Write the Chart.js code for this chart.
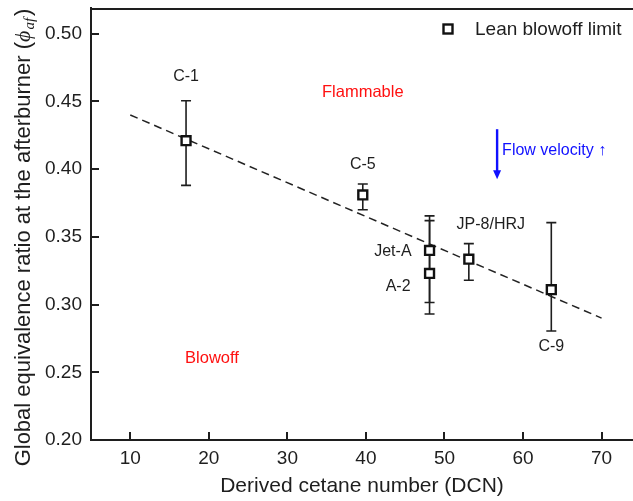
<!DOCTYPE html>
<html><head><meta charset="utf-8">
<script src="https://cdn.jsdelivr.net/npm/chart.js@4/dist/chart.umd.min.js"></script>
<style>html,body{margin:0;padding:0;background:#fff;} canvas{display:block;}</style>
</head><body>
<canvas id="c" width="633" height="501"></canvas>
<script>
// ---- data ----
const fuels    = ['C-1', 'C-5', 'Jet-A', 'A-2', 'JP-8/HRJ', 'C-9'];
const dcn      = [17.1, 39.6, 48.1, 48.1, 53.1, 63.6];
const phiLBO   = [0.421, 0.381, 0.340, 0.323, 0.3335, 0.311];
const phiLow   = [0.388, 0.370, 0.3015, 0.293, 0.318, 0.2805];
const phiHigh  = [0.4505, 0.389, 0.3655, 0.362, 0.345, 0.3605];
const fitX     = [10, 70];
const fitY     = [0.440, 0.290];
const xTicks   = [10, 20, 30, 40, 50, 60, 70];
const yTicks   = [0.20, 0.25, 0.30, 0.35, 0.40, 0.45, 0.50];
const seriesLabel = 'Lean blowoff limit';
const regionText = ['Flammable', 'Blowoff'];
const regionX    = [39.6, 20.4];
const regionY    = [0.4563, 0.260];
const flowText   = 'Flow velocity \u2191';
const flowX      = 56.7;
const flowYFrom  = 0.4295;
const flowYTo    = 0.3925;
const xTitle = 'Derived cetane number (DCN)';
const yTitleMain = 'Global equivalence ratio at the afterburner (';
const yTitleSym = '\u03D5';
const yTitleSub = 'af';
const yTitleEnd = ')';

// ---- styles ----
const FONT = '"Liberation Sans", Arial, Helvetica, sans-serif';
const INK = '#1e1e1e';
// label offsets in px relative to each point: [dx, dy, align]
const labelPos = [[0, -64, 'center'], [0, -30, 'center'], [-18, 1, 'right'], [-19, 13, 'right'], [22, -35, 'center'], [0, 57, 'center']];

const decor = {
  id: 'decor',
  beforeDatasetsDraw(chart) {
    const {ctx, scales: {x, y}} = chart;
    ctx.save();
    ctx.strokeStyle = INK;
    ctx.lineWidth = 1.6;
    const cap = 5;
    for (let i = 0; i < dcn.length; i++) {
      const px = x.getPixelForValue(dcn[i]);
      const lo = y.getPixelForValue(phiLow[i]);
      const hi = y.getPixelForValue(phiHigh[i]);
      ctx.beginPath();
      ctx.moveTo(px, lo); ctx.lineTo(px, hi);
      ctx.moveTo(px - cap, lo); ctx.lineTo(px + cap, lo);
      ctx.moveTo(px - cap, hi); ctx.lineTo(px + cap, hi);
      ctx.stroke();
    }
    ctx.restore();
  },
  afterDraw(chart) {
    const {ctx, chartArea: a, scales: {x, y}} = chart;
    ctx.save();
    // frame top
    ctx.strokeStyle = INK;
    ctx.lineWidth = 2;
    ctx.beginPath();
    ctx.moveTo(a.left - 1, a.top + 1); ctx.lineTo(a.right, a.top + 1);
    ctx.stroke();
    // inward ticks
    ctx.lineWidth = 2;
    ctx.beginPath();
    xTicks.forEach(v => { const p = Math.round(x.getPixelForValue(v)); ctx.moveTo(p, a.bottom); ctx.lineTo(p, a.bottom - 8); });
    yTicks.forEach(v => { const p = Math.round(y.getPixelForValue(v)); ctx.moveTo(a.left, p); ctx.lineTo(a.left + 8, p); });
    ctx.stroke();

    // point labels
    ctx.fillStyle = INK;
    ctx.font = '16px ' + FONT;
    ctx.textBaseline = 'middle';
    fuels.forEach((f, i) => {
      const px = x.getPixelForValue(dcn[i]);
      const py = y.getPixelForValue(phiLBO[i]);
      const [dx, dy, al] = labelPos[i];
      ctx.textAlign = al;
      ctx.fillText(f, px + dx, py + dy);
    });
    // region labels
    ctx.fillStyle = '#ff1010';
    ctx.textAlign = 'center';
    ctx.font = '16.5px ' + FONT;
    regionText.forEach((t, i) => ctx.fillText(t, x.getPixelForValue(regionX[i]), y.getPixelForValue(regionY[i])));
    // flow arrow
    const fx = x.getPixelForValue(flowX);
    const fy0 = y.getPixelForValue(flowYFrom), fy1 = y.getPixelForValue(flowYTo);
    ctx.strokeStyle = '#1010ff'; ctx.fillStyle = '#1010ff';
    ctx.lineWidth = 2.4;
    ctx.beginPath(); ctx.moveTo(fx, fy0); ctx.lineTo(fx, fy1 - 8); ctx.stroke();
    ctx.beginPath(); ctx.moveTo(fx - 4, fy1 - 9); ctx.lineTo(fx + 4, fy1 - 9); ctx.lineTo(fx, fy1); ctx.closePath(); ctx.fill();
    ctx.textAlign = 'left';
    ctx.font = '16px ' + FONT;
    ctx.fillText(flowText, fx + 5, (fy0 + fy1) / 2 - 4);

    // legend
    ctx.strokeStyle = '#111'; ctx.lineWidth = 2.4; ctx.fillStyle = '#fff';
    ctx.fillRect(443.5, 24.5, 9, 9); ctx.strokeRect(443.5, 24.5, 9, 9);
    ctx.fillStyle = INK;
    ctx.font = '19px ' + FONT;
    ctx.textAlign = 'left';
    ctx.fillText(seriesLabel, 475, 29.5);

    // y title with subscript
    ctx.save();
    ctx.translate(30, 237.5);
    ctx.rotate(-Math.PI / 2);
    ctx.textBaseline = 'alphabetic';
    ctx.textAlign = 'left';
    const fMain = '22px ' + FONT;
    const fSym = 'italic 22px "Liberation Serif", "DejaVu Serif", serif';
    const fSub = 'italic 15px "Liberation Serif", "DejaVu Serif", serif';
    ctx.font = fMain; const w1 = ctx.measureText(yTitleMain).width; const w4 = ctx.measureText(yTitleEnd).width;
    ctx.font = fSym; const w2 = ctx.measureText(yTitleSym).width + 1;
    ctx.font = fSub; const w3 = ctx.measureText(yTitleSub).width + 2;
    let cx = -(w1 + w2 + w3 + w4) / 2;
    ctx.font = fMain; ctx.fillText(yTitleMain, cx, 0); cx += w1;
    ctx.font = fSym; ctx.fillText(yTitleSym, cx, 0); cx += w2;
    ctx.font = fSub; ctx.fillText(yTitleSub, cx, 4); cx += w3;
    ctx.font = fMain; ctx.fillText(yTitleEnd, cx, 0);
    ctx.restore();
    ctx.restore();
  }
};

new Chart(document.getElementById('c'), {
  type: 'scatter',
  data: {
    datasets: [
      {
        label: seriesLabel,
        data: dcn.map((v, i) => ({x: v, y: phiLBO[i]})),
        pointStyle: 'rect',
        pointRadius: 6.3,
        pointBorderWidth: 2.4,
        borderColor: '#111',
        backgroundColor: '#fff',
        showLine: false,
        order: 0
      },
      {
        label: 'fit',
        type: 'line',
        data: fitX.map((v, i) => ({x: v, y: fitY[i]})),
        borderColor: '#222',
        borderWidth: 1.5,
        borderDash: [8, 5],
        pointRadius: 0,
        fill: false,
        order: 1
      }
    ]
  },
  options: {
    responsive: false,
    animation: false,
    devicePixelRatio: 1,
    events: [],
    layout: {autoPadding: false, padding: {top: 8, right: 0, left: 0, bottom: 0}},
    plugins: {legend: {display: false}, tooltip: {enabled: false}},
    scales: {
      x: {
        type: 'linear', min: 5, max: 74,
        afterBuildTicks: s => { s.ticks = xTicks.map(v => ({value: v})); },
        afterFit: s => { s.height = 61; s.paddingLeft = 0; s.paddingRight = 0; },
        grid: {display: true, drawOnChartArea: false, drawTicks: false},
        border: {display: true, color: INK, width: 2},
        ticks: {color: INK, font: {family: FONT, size: 19}, padding: 7, maxRotation: 0},
        title: {display: true, text: xTitle, color: INK, font: {family: FONT, size: 21}, padding: {top: 0, bottom: 2}}
      },
      y: {
        type: 'linear', min: 0.2, max: 0.519,
        afterBuildTicks: s => { s.ticks = yTicks.map(v => ({value: v})); },
        afterFit: s => { s.width = 91; s.paddingTop = 0; s.paddingBottom = 0; },
        grid: {display: true, drawOnChartArea: false, drawTicks: false},
        border: {display: true, color: INK, width: 2},
        ticks: {color: INK, font: {family: FONT, size: 19}, padding: 9, callback: v => Number(v).toFixed(2)}
      }
    }
  },
  plugins: [decor]
});
</script>
</body></html>
